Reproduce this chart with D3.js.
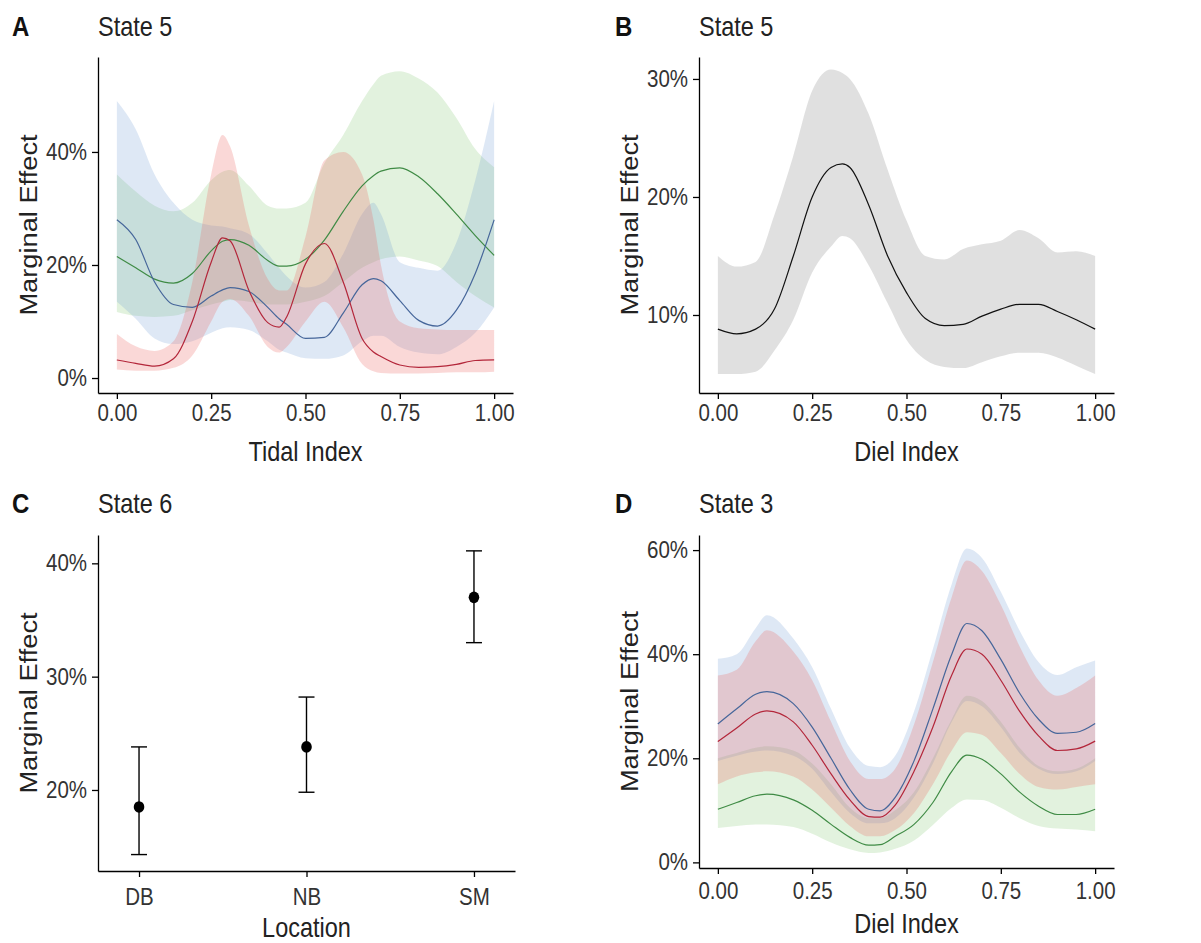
<!DOCTYPE html>
<html>
<head>
<meta charset="utf-8">
<script src="https://cdn.jsdelivr.net/npm/d3@7"></script>
<style>
body { margin: 0; background: #fff; }
svg { display: block; }
</style>
</head>
<body>
<div id="chart"></div>
<script>
// ---- panel A: tidal index, state 5 (values in %) ----
const tidalX = [0, .05, .1, .15, .2, .25, .28, .3, .35, .4, .43, .45, .5, .55, .6, .65, .68, .7, .75, .8, .85, .9, .95, 1];
const tidalRedFit = [3.2, 2.6, 2.1, 3.4, 10, 20.5, 24.8, 24.3, 15.5, 9.8, 9, 10.8, 20.2, 23.8, 17, 7, 4.6, 3.8, 2.3, 1.9, 2, 2.4, 3.1, 3.2];
const tidalRedLo = [1.5, 1.3, 1.3, 1.8, 4, 10, 13.5, 14, 11, 5.5, 4.5, 5.5, 10, 13.5, 9, 2.5, 1.2, 0.9, 0.8, 0.8, 0.9, 1, 1, 1.1];
const tidalRedHi = [7.8, 5.6, 4.8, 6.5, 17, 36, 43, 41, 27, 17.5, 15.5, 15.5, 25, 38.5, 40, 36, 28, 20, 10, 8.8, 8.6, 8.5, 8.5, 8.5];
const tidalGreenFit = [21.5, 19.5, 17.5, 16.8, 18.5, 22.5, 24.2, 24.5, 23.5, 20.8, 19.8, 19.8, 21, 24.4, 29.5, 34, 35.8, 36.6, 37.2, 35.6, 32.6, 29, 25.2, 21.7];
const tidalGreenLo = [11.7, 11, 10.8, 11, 12, 13, 13.5, 13.8, 13.5, 13, 13, 13, 13.5, 14.5, 17, 19.5, 20.5, 21, 21.5, 20.8, 19.8, 17, 14.5, 12.5];
const tidalGreenHi = [36, 33, 30.5, 29.5, 31, 35, 36.5, 36.8, 34, 30.5, 30, 30, 31, 38, 43, 49, 52, 53.5, 54.3, 53, 50.5, 46, 40.5, 37.3];
const tidalBlueFit = [28, 24.5, 17, 13, 12.5, 14.5, 15.6, 16, 15.3, 12.5, 10.5, 9.5, 7, 7.2, 11.5, 16.5, 17.6, 17.2, 13.7, 10.2, 9.2, 12, 18.5, 28];
const tidalBlueLo = [13.5, 10.5, 7, 6, 6.5, 8, 8.8, 9, 8.5, 6.5, 5, 4.5, 3.5, 3.4, 4, 6.5, 7.5, 7.5, 5.5, 4.5, 4.2, 5.5, 8, 12.5];
const tidalBlueHi = [49, 44, 36, 31, 28, 27, 26.8, 26.5, 25.5, 22, 19.5, 18, 16, 17, 22, 29, 31, 29, 20.5, 19.5, 19, 24, 35, 49];

// ---- panel B: diel index, state 5 ----
const dielX = [0, .05, .1, .15, .2, .25, .3, .33, .35, .4, .45, .5, .55, .6, .65, .7, .75, .8, .85, .9, .95, 1];
const dielFit = [8.8, 8.4, 8.8, 10.5, 15, 20, 22.5, 22.8, 22.5, 19.3, 15, 11.9, 9.7, 9.1, 9.2, 9.9, 10.5, 10.9, 10.9, 10.3, 9.6, 8.8];
const dielLo = [5, 5, 5.2, 7, 9.6, 13.6, 15.8, 16.7, 16.5, 14.2, 11, 7.9, 6.2, 5.6, 5.5, 6, 6.5, 6.8, 6.8, 6.4, 5.7, 5];
const dielHi = [15, 14.1, 14.5, 18.5, 23.5, 29, 30.8, 30.5, 30, 27, 22.3, 18, 15, 14.7, 15.6, 16, 16.3, 17.2, 16.5, 15.3, 15.4, 15];

// ---- panel C: location, state 6 ----
const locations = ["DB", "NB", "SM"];
const locFit = [18.5, 23.8, 37.0];
const locLo = [14.3, 19.8, 33.0];
const locHi = [23.8, 28.2, 41.1];

// ---- panel D: diel index, state 3 ----
const diel3X = [0, .05, .1, .13, .2, .25, .3, .35, .4, .43, .47, .52, .57, .62, .66, .7, .75, .8, .85, .9, .95, 1];
const diel3BlueFit = [26.6, 29.5, 32.3, 32.8, 30.5, 26, 20, 14, 10.2, 9.9, 12.5, 19.5, 29.5, 40, 45.9, 44.5, 39, 32.5, 27.5, 24.8, 25, 26.7];
const diel3BlueLo = [19.5, 20.5, 21.3, 21.5, 20.5, 18, 13.5, 9.5, 7.5, 7.5, 8.5, 12.5, 19, 27, 31, 30, 26, 21, 18, 17, 17.5, 19.5];
const diel3BlueHi = [39.1, 40, 45, 47.5, 43, 37.5, 29.5, 22, 18.5, 18.3, 20.5, 29, 41, 53.5, 60.3, 58.5, 52, 44.5, 38.5, 36, 37.5, 38.8];
const diel3RedFit = [23.2, 25.8, 28.5, 29.1, 27, 22.5, 17, 12, 8.8, 8.7, 11, 17.5, 26, 36, 41, 40, 35, 29, 24.3, 21.5, 21.8, 23.3];
const diel3RedLo = [15, 16.5, 17.3, 17.5, 16.5, 14, 10.5, 7, 5, 5, 6.2, 9.5, 15, 21.5, 25, 24.5, 21, 17, 14.5, 14, 14.5, 15];
const diel3RedHi = [35.9, 37, 42.5, 44.6, 40.5, 35, 27, 19.5, 16, 16, 18, 26.5, 38.5, 51, 58, 56, 49.5, 41.5, 35, 32, 33.5, 35.9];
const diel3GreenFit = [10.2, 11.5, 12.8, 13.1, 12, 10, 7.3, 4.8, 3.3, 3.4, 5, 7.3, 11.5, 17.5, 20.6, 19.8, 17, 13.5, 10.8, 9.2, 9.2, 10.2];
const diel3GreenLo = [6.6, 7, 7.3, 7.3, 6.8, 5.5, 3.8, 2.5, 1.8, 1.9, 2.6, 4.2, 7.2, 10.5, 12.1, 12, 10.5, 8.5, 7, 6.5, 6.3, 6];
const diel3GreenHi = [20, 21, 22, 22.3, 21.5, 19, 15, 10.5, 8.5, 8.5, 10, 13.5, 20, 27.5, 32, 31, 27, 22, 18.5, 17.5, 18, 20];

const FONT = '"Liberation Sans", Arial, sans-serif';
const SY = 1.16; // the figure is slightly stretched vertically
const col = {
    red: { fill: "#ec6a66", op: 0.26, line: "#b3263a" },
    green: { fill: "#6cc05a", op: 0.2, line: "#3f8b45" },
    blue: { fill: "#6a96d0", op: 0.22, line: "#46669a" }
};

const svg = d3.select("#chart").append("svg")
    .attr("width", 1201)
    .attr("height", 943)
    .attr("font-family", FONT);

function stretch(sel) {
    sel.each(function () {
        const t = d3.select(this);
        const x = +t.attr("x") || 0, y = +t.attr("y") || 0;
        t.attr("transform", `translate(${x},${y}) scale(1,${SY}) translate(${-x},${-y})`);
    });
}

function panel(p) {
    const g = svg.append("g");
    const y = d3.scaleLinear().domain(p.yDomain).range([p.bottom, p.top]);
    let x;
    if (p.categories) {
        x = d3.scalePoint().domain(p.categories).range([p.left, p.right]).padding(0.245);
    } else {
        x = d3.scaleLinear().domain([-0.05, 1.05]).range([p.left, p.right]);
    }
    const plot = g.append("g");

    const xAxis = d3.axisBottom(x).tickSize(6).tickSizeOuter(0).tickPadding(p.xPad);
    if (!p.categories) xAxis.tickValues([0, .25, .5, .75, 1]).tickFormat(d3.format(".2f"));
    const gx = g.append("g").attr("transform", `translate(0,${p.bottom})`).call(xAxis);
    const gy = g.append("g").attr("transform", `translate(${p.left},0)`)
        .call(d3.axisLeft(y).tickValues(p.yTicks).tickFormat(d => d + "%")
            .tickSize(6).tickSizeOuter(0).tickPadding(5));
    [gx, gy].forEach(a => {
        a.attr("font-family", FONT).attr("font-size", 20.5);
        a.selectAll("path, line").attr("stroke", "#000").attr("stroke-width", 1.3);
        a.selectAll("text").attr("fill", "#333").call(stretch);
    });

    g.append("text")
        .attr("x", p.letterX).attr("y", p.titleY)
        .attr("font-size", 24).attr("font-weight", "bold").attr("fill", "#111")
        .text(p.letter).call(stretch);
    g.append("text")
        .attr("x", p.left).attr("y", p.titleY)
        .attr("font-size", 23.5).attr("fill", "#222")
        .text(p.title).call(stretch);
    g.append("text")
        .attr("x", (p.left + p.right) / 2).attr("y", p.xTitleY)
        .attr("text-anchor", "middle")
        .attr("font-size", 23.5).attr("fill", "#222")
        .text(p.xTitle).call(stretch);
    g.append("text")
        .attr("transform", `translate(${p.left - 61},${(p.top + p.bottom) / 2}) rotate(-90) scale(${SY},1)`)
        .attr("text-anchor", "middle")
        .attr("font-size", 23.5).attr("fill", "#222")
        .text("Marginal Effect");

    return { x, y, plot };
}

function ribbon(pn, xs, lo, hi, c) {
    const area = d3.area()
        .x((d, i) => pn.x(xs[i]))
        .y0((d, i) => pn.y(lo[i]))
        .y1((d, i) => pn.y(hi[i]))
        .curve(d3.curveMonotoneX);
    pn.plot.append("path").datum(xs)
        .attr("d", area)
        .attr("fill", c.fill).attr("fill-opacity", c.op);
}

function fitLine(pn, xs, fit, color) {
    const line = d3.line()
        .x((d, i) => pn.x(xs[i]))
        .y((d, i) => pn.y(fit[i]))
        .curve(d3.curveMonotoneX);
    pn.plot.append("path").datum(xs)
        .attr("d", line)
        .attr("fill", "none").attr("stroke", color).attr("stroke-width", 1.2);
}

// A
const pA = panel({
    letter: "A", letterX: 12, title: "State 5", titleY: 36,
    left: 98, right: 513, top: 57, bottom: 393,
    yDomain: [-2.65, 56.8], yTicks: [0, 20, 40],
    xTitle: "Tidal Index", xTitleY: 461, xPad: 5
});
ribbon(pA, tidalX, tidalGreenLo, tidalGreenHi, col.green);
ribbon(pA, tidalX, tidalBlueLo, tidalBlueHi, col.blue);
ribbon(pA, tidalX, tidalRedLo, tidalRedHi, col.red);
fitLine(pA, tidalX, tidalGreenFit, col.green.line);
fitLine(pA, tidalX, tidalBlueFit, col.blue.line);
fitLine(pA, tidalX, tidalRedFit, col.red.line);

// B
const pB = panel({
    letter: "B", letterX: 615, title: "State 5", titleY: 36,
    left: 699, right: 1114, top: 57, bottom: 393,
    yDomain: [3.39, 31.86], yTicks: [10, 20, 30],
    xTitle: "Diel Index", xTitleY: 461, xPad: 5
});
ribbon(pB, dielX, dielLo, dielHi, { fill: "#999999", op: 0.3 });
fitLine(pB, dielX, dielFit, "#111");

// C
const pC = panel({
    letter: "C", letterX: 12, title: "State 6", titleY: 513,
    left: 98, right: 515, top: 535, bottom: 871,
    yDomain: [12.85, 42.5], yTicks: [20, 30, 40],
    categories: locations,
    xTitle: "Location", xTitleY: 937, xPad: 11
});
const bars = pC.plot.selectAll("g.err").data(locations).join("g").attr("class", "err");
bars.append("line")
    .attr("x1", d => pC.x(d)).attr("x2", d => pC.x(d))
    .attr("y1", (d, i) => pC.y(locLo[i])).attr("y2", (d, i) => pC.y(locHi[i]))
    .attr("stroke", "#000").attr("stroke-width", 1.4);
[locLo, locHi].forEach(arr => {
    bars.append("line")
        .attr("x1", d => pC.x(d) - 8).attr("x2", d => pC.x(d) + 8)
        .attr("y1", (d, i) => pC.y(arr[i])).attr("y2", (d, i) => pC.y(arr[i]))
        .attr("stroke", "#000").attr("stroke-width", 1.4);
});
bars.append("ellipse")
    .attr("cx", d => pC.x(d)).attr("cy", (d, i) => pC.y(locFit[i]))
    .attr("rx", 5.3).attr("ry", 5.8)
    .attr("fill", "#000");

// D
const pD = panel({
    letter: "D", letterX: 615, title: "State 3", titleY: 513,
    left: 699, right: 1114, top: 535, bottom: 868,
    yDomain: [-1.08, 62.9], yTicks: [0, 20, 40, 60],
    xTitle: "Diel Index", xTitleY: 933, xPad: 8
});
ribbon(pD, diel3X, diel3GreenLo, diel3GreenHi, col.green);
ribbon(pD, diel3X, diel3BlueLo, diel3BlueHi, col.blue);
ribbon(pD, diel3X, diel3RedLo, diel3RedHi, col.red);
fitLine(pD, diel3X, diel3GreenFit, col.green.line);
fitLine(pD, diel3X, diel3BlueFit, col.blue.line);
fitLine(pD, diel3X, diel3RedFit, col.red.line);
</script>
</body>
</html>
